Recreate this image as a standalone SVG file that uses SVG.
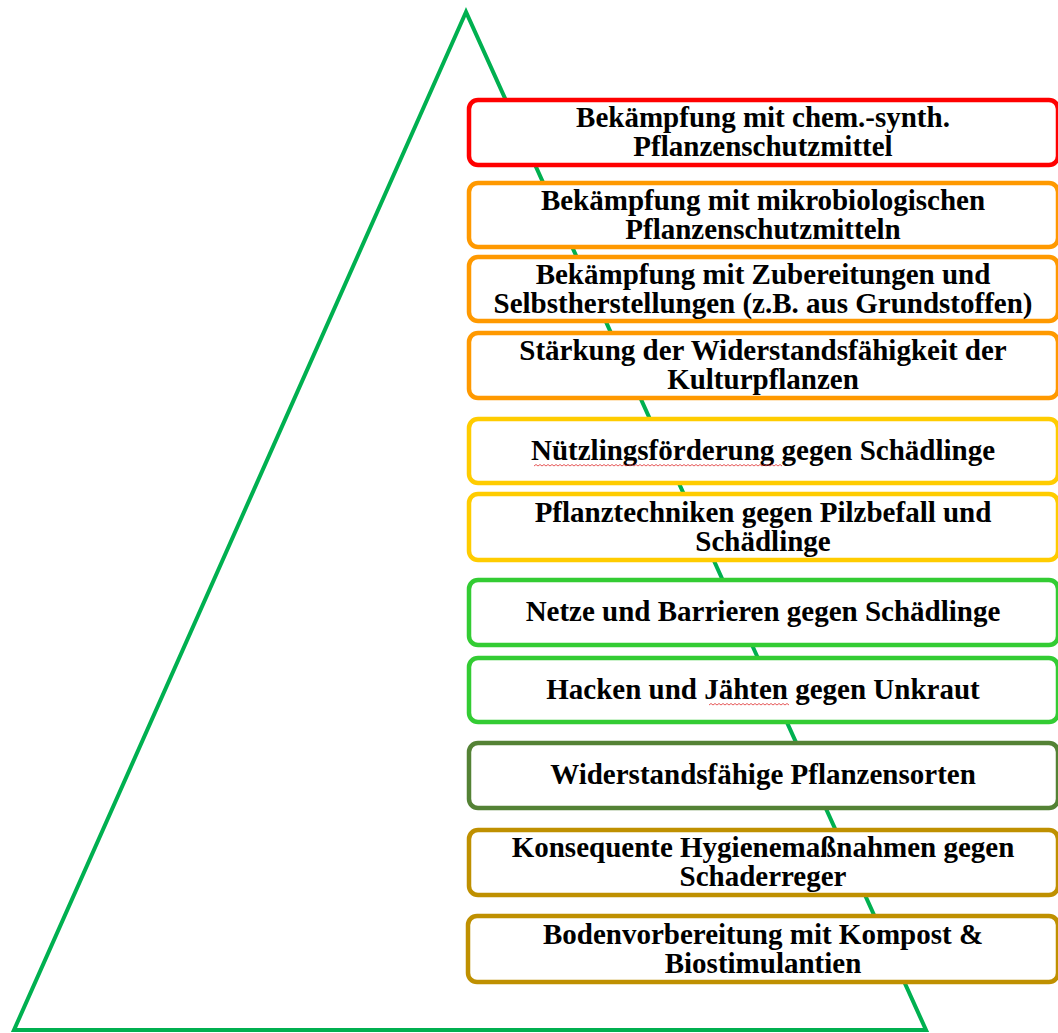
<svg xmlns="http://www.w3.org/2000/svg" width="1058" height="1033" viewBox="0 0 1058 1033">
<style>
.box{fill:#fff;stroke-width:4.5}
.t{font-family:"Liberation Serif","Times New Roman",serif;font-weight:bold;font-size:29px;text-anchor:middle;fill:#000}
.red{stroke:#FF0000}.org{stroke:#FF9900}.yel{stroke:#FFCC00}.grn{stroke:#33CC33}.dgr{stroke:#548235}.gld{stroke:#BF9000}
.sp{fill:none;stroke:#E03030;stroke-width:0.8}
</style>
<rect width="1058" height="1033" fill="#fff"/>
<g id="connectors">
<polygon id="pyramid" points="466,12 14,1030 926,1030" fill="none" stroke="#00B050" stroke-width="4"/>
</g>
<g id="n1"><rect class="box red" x="469" y="100" width="589" height="65" rx="9"/><text class="t" x="763" y="127">Bekämpfung mit chem.-synth.</text><text class="t" x="763" y="156">Pflanzenschutzmittel</text></g>
<g id="n2"><rect class="box org" x="469" y="183" width="589" height="64" rx="9"/><text class="t" x="763" y="209.5">Bekämpfung mit mikrobiologischen</text><text class="t" x="763" y="238.5">Pflanzenschutzmitteln</text></g>
<g id="n3"><rect class="box org" x="469" y="257" width="589" height="64" rx="9"/><text class="t" x="763" y="283.5">Bekämpfung mit Zubereitungen und</text><text class="t" x="763" y="312.5">Selbstherstellungen (z.B. aus Grundstoffen)</text></g>
<g id="n4"><rect class="box org" x="469" y="333" width="589" height="65" rx="9"/><text class="t" x="763" y="360">Stärkung der Widerstandsfähigkeit der</text><text class="t" x="763" y="389">Kulturpflanzen</text></g>
<g id="n5"><rect class="box yel" x="469" y="419" width="589" height="64" rx="9"/><text class="t" x="763" y="460">Nützlingsförderung gegen Schädlinge</text><path class="sp" d="M534,466 l2,-1.5 l2,1.5 l2,-1.5 l2,1.5 l2,-1.5 l2,1.5 l2,-1.5 l2,1.5 l2,-1.5 l2,1.5 l2,-1.5 l2,1.5 l2,-1.5 l2,1.5 l2,-1.5 l2,1.5 l2,-1.5 l2,1.5 l2,-1.5 l2,1.5 l2,-1.5 l2,1.5 l2,-1.5 l2,1.5 l2,-1.5 l2,1.5 l2,-1.5 l2,1.5 l2,-1.5 l2,1.5 l2,-1.5 l2,1.5 l2,-1.5 l2,1.5 l2,-1.5 l2,1.5 l2,-1.5 l2,1.5 l2,-1.5 l2,1.5 l2,-1.5 l2,1.5 l2,-1.5 l2,1.5 l2,-1.5 l2,1.5 l2,-1.5 l2,1.5 l2,-1.5 l2,1.5 l2,-1.5 l2,1.5 l2,-1.5 l2,1.5 l2,-1.5 l2,1.5 l2,-1.5 l2,1.5 l2,-1.5 l2,1.5 l2,-1.5 l2,1.5 l2,-1.5 l2,1.5 l2,-1.5 l2,1.5 l2,-1.5 l2,1.5 l2,-1.5 l2,1.5 l2,-1.5 l2,1.5 l2,-1.5 l2,1.5 l2,-1.5 l2,1.5 l2,-1.5 l2,1.5 l2,-1.5 l2,1.5 l2,-1.5 l2,1.5 l2,-1.5 l2,1.5 l2,-1.5 l2,1.5 l2,-1.5 l2,1.5 l2,-1.5 l2,1.5 l2,-1.5 l2,1.5 l2,-1.5 l2,1.5 l2,-1.5 l2,1.5 l2,-1.5 l2,1.5 l2,-1.5 l2,1.5 l2,-1.5 l2,1.5 l2,-1.5 l2,1.5 l2,-1.5 l2,1.5 l2,-1.5 l2,1.5 l2,-1.5 l2,1.5 l2,-1.5 l2,1.5 l2,-1.5 l2,1.5 l2,-1.5 l2,1.5 l2,-1.5 l2,1.5 l2,-1.5 l2,1.5 l2,-1.5 l2,1.5 l2,-1.5 l2,1.5"/></g>
<g id="n6"><rect class="box yel" x="469" y="494" width="589" height="66" rx="9"/><text class="t" x="763" y="521.5">Pflanztechniken gegen Pilzbefall und</text><text class="t" x="763" y="550.5">Schädlinge</text></g>
<g id="n7"><rect class="box grn" x="469" y="580" width="589" height="65" rx="9"/><text class="t" x="763" y="621">Netze und Barrieren gegen Schädlinge</text></g>
<g id="n8"><rect class="box grn" x="469" y="658" width="589" height="64" rx="9"/><text class="t" x="763" y="699">Hacken und Jähten gegen Unkraut</text><path class="sp" d="M709,705 l2,-1.5 l2,1.5 l2,-1.5 l2,1.5 l2,-1.5 l2,1.5 l2,-1.5 l2,1.5 l2,-1.5 l2,1.5 l2,-1.5 l2,1.5 l2,-1.5 l2,1.5 l2,-1.5 l2,1.5 l2,-1.5 l2,1.5 l2,-1.5 l2,1.5 l2,-1.5 l2,1.5 l2,-1.5 l2,1.5 l2,-1.5 l2,1.5 l2,-1.5 l2,1.5 l2,-1.5 l2,1.5 l2,-1.5 l2,1.5 l2,-1.5 l2,1.5 l2,-1.5 l2,1.5 l2,-1.5 l2,1.5 l2,-1.5 l2,1.5"/></g>
<g id="n9"><rect class="box dgr" x="469" y="743" width="589" height="65" rx="9"/><text class="t" x="763" y="784">Widerstandsfähige Pflanzensorten</text></g>
<g id="n10"><rect class="box gld" x="469" y="830" width="589" height="65" rx="9"/><text class="t" x="763" y="857">Konsequente Hygienemaßnahmen gegen</text><text class="t" x="763" y="886">Schaderreger</text></g>
<g id="n11"><rect class="box gld" x="468" y="916" width="590" height="66" rx="9"/><text class="t" x="763" y="943.5">Bodenvorbereitung mit Kompost &amp;</text><text class="t" x="763" y="972.5">Biostimulantien</text></g>
</svg>
